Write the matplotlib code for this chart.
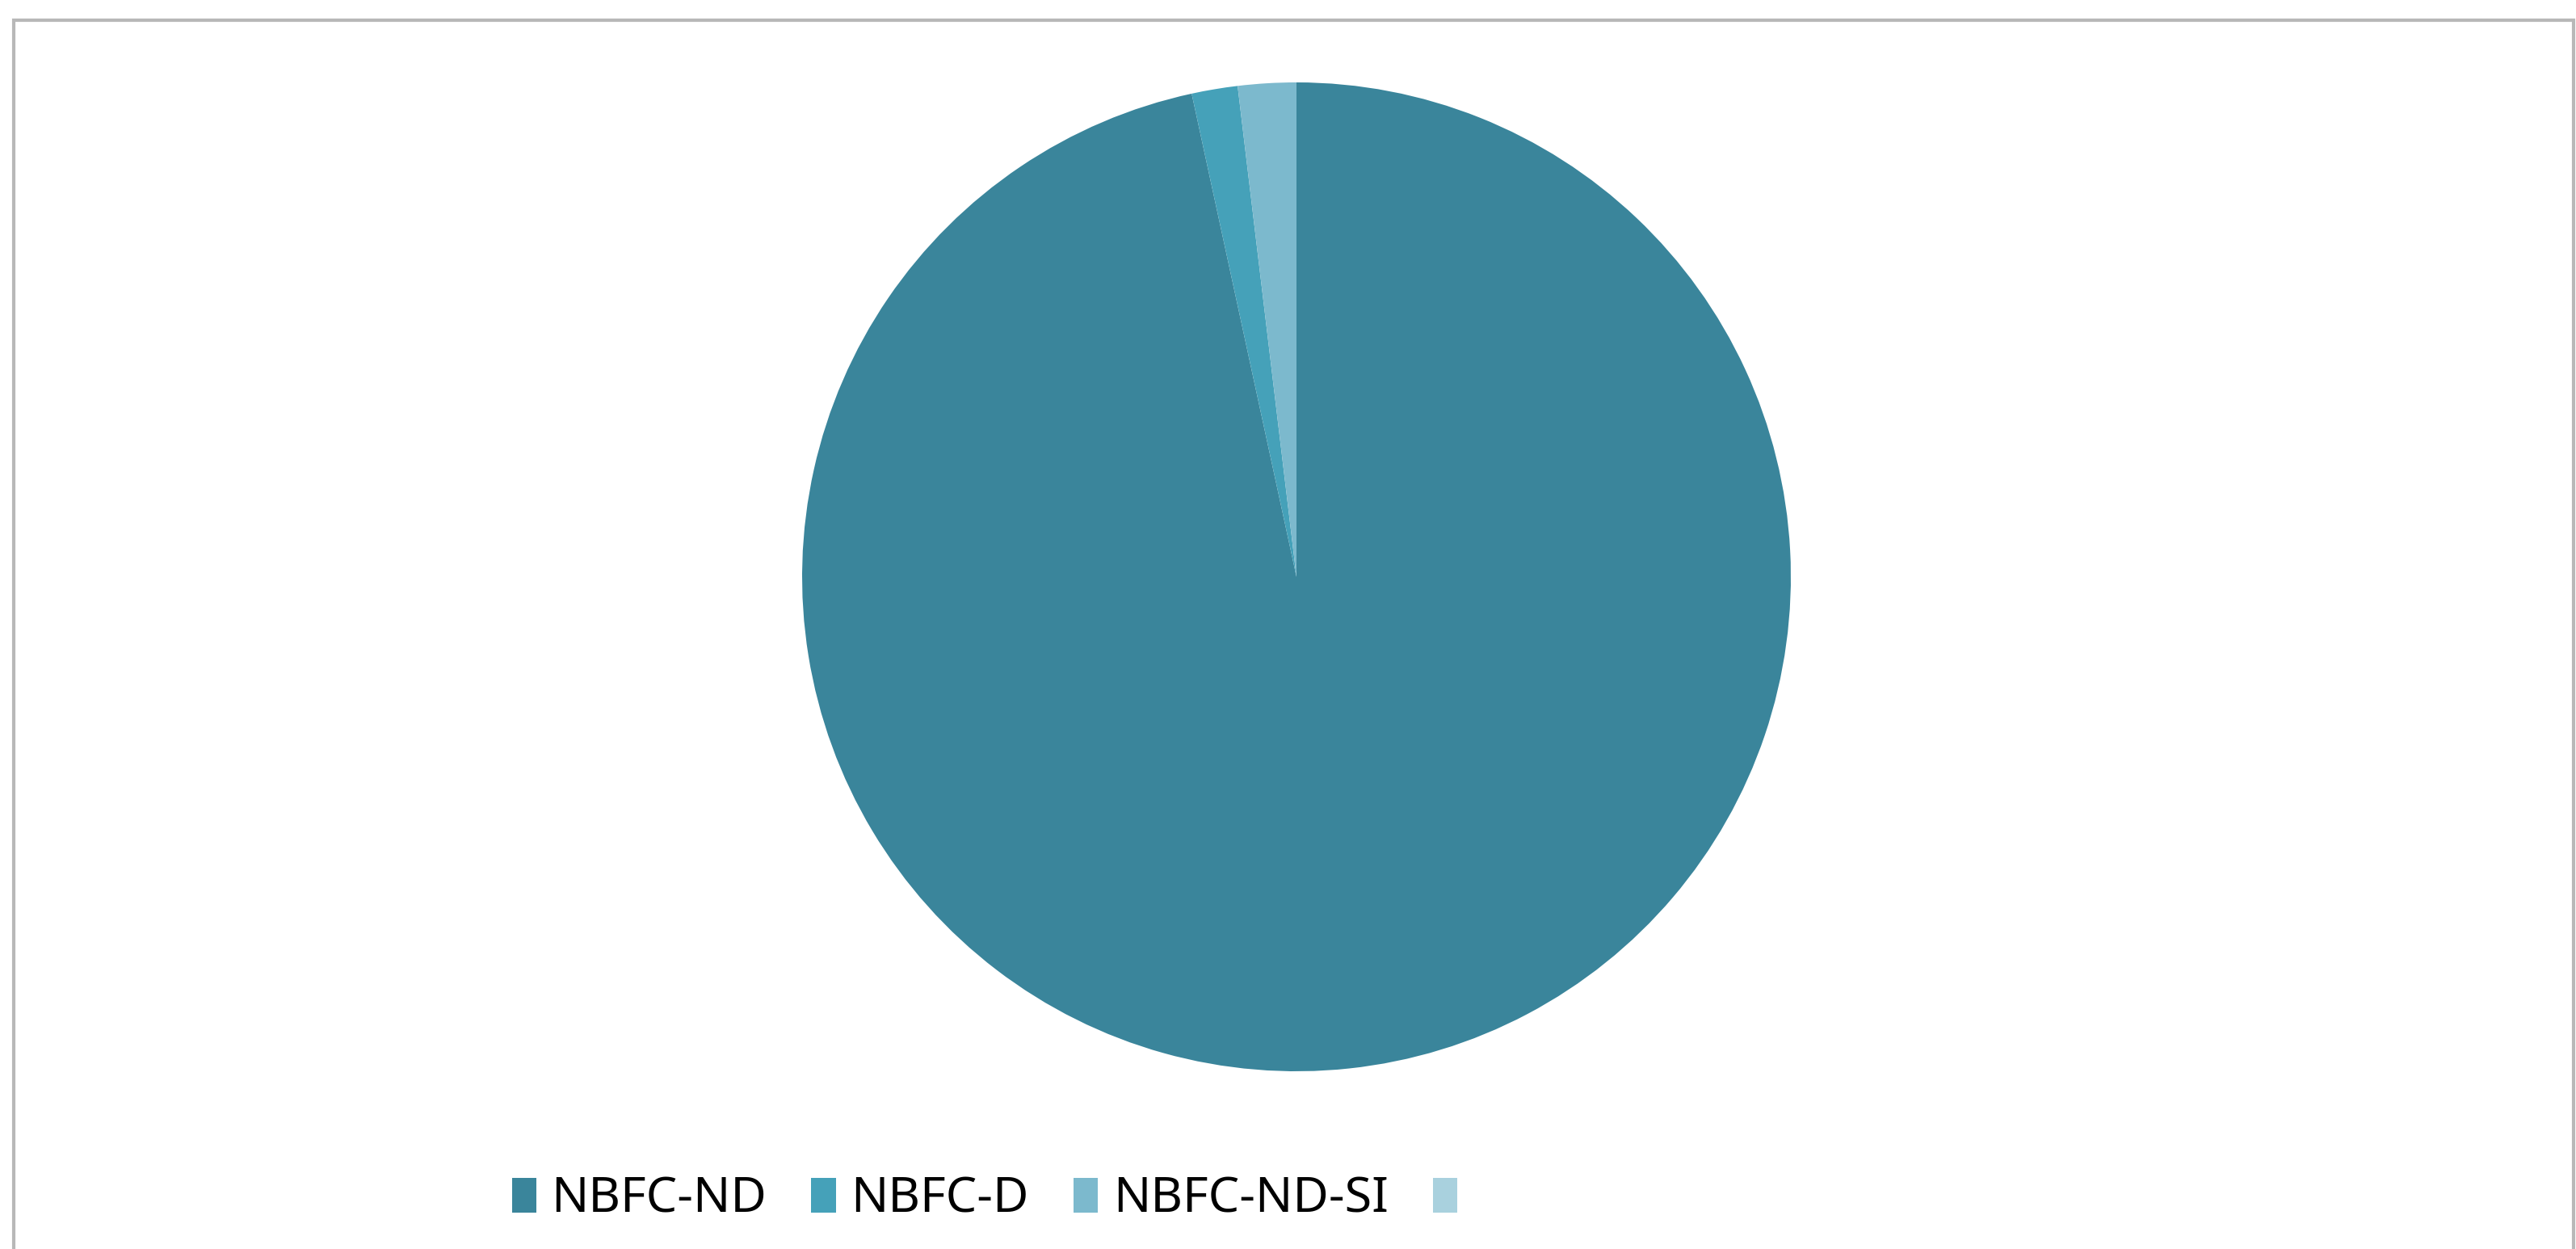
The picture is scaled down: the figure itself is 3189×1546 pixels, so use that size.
import matplotlib
matplotlib.use("Agg")
import matplotlib.pyplot as plt
from matplotlib.patches import Rectangle

# slice shares (percent)
labels = ["NBFC-ND", "NBFC-D", "NBFC-ND-SI", ""]
shares = [96.6, 1.5, 1.9, 0.0]
colors = ["#3a859b", "#45a1b9", "#7cb9cd", "#a9d1de"]

plt.rcParams['font.family'] = ['Noto Sans', 'DejaVu Sans']

fig = plt.figure(figsize=(31.89, 15.46), dpi=100)
fig.patch.set_facecolor("white")

# outer chart frame (bottom edge runs off the picture)
frame = Rectangle((17 / 3189, -0.05), (3186 - 17) / 3189, 1 - 25 / 1546 + 0.05,
                  transform=fig.transFigure, fill=False, edgecolor="#b8b8b8",
                  linewidth=3, zorder=0)
fig.patches.append(frame)

# pie: centre ~ (1605, 714) px, radius ~ 612 px
r = 612
cx, cy = 1605, 714
ax = fig.add_axes([(cx - r) / 3189, 1 - (cy + r) / 1546, 2 * r / 3189, 2 * r / 1546])
wedges, _ = ax.pie(shares, colors=colors, startangle=90, counterclock=False,
                   wedgeprops=dict(linewidth=0))
ax.set_xlim(-1, 1)
ax.set_ylim(-1, 1)
ax.set_aspect("equal")
ax.axis("off")

handles = [Rectangle((0, 0), 1, 1, facecolor=c, edgecolor="none") for c in colors]
fig.legend(handles, labels, loc="center", bbox_to_anchor=(1228 / 3189, 1 - 1485 / 1546),
           ncol=4, frameon=False, fontsize=44, handlelength=0.5, handleheight=0.7,
           handletextpad=0.3, columnspacing=0.9)

fig.savefig("out.png", dpi=100, facecolor="white")
